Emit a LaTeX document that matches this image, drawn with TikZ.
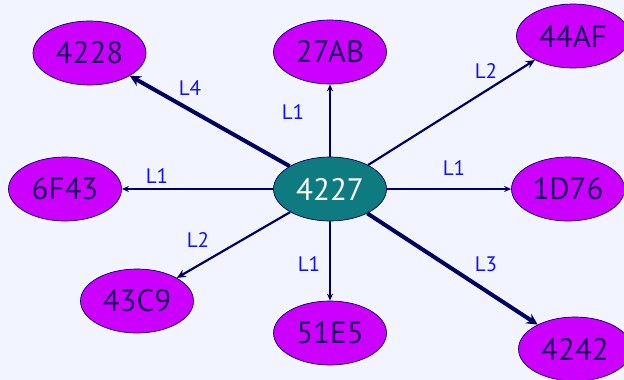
\documentclass[tikz,border=0pt]{standalone}
\usepackage{fontspec}
\setmainfont{PT Sans}
\usetikzlibrary{shapes.geometric,arrows.meta}

\definecolor{paper}{HTML}{F2F4FF}
\definecolor{hostfill}{HTML}{CC00FF}
\definecolor{hubfill}{HTML}{0D7B80}
\definecolor{ink}{HTML}{000060}
\definecolor{nodetext}{HTML}{1A0A5A}
\definecolor{linklabel}{HTML}{1010FF}

\tikzset{
  host/.style={ellipse, draw=ink, line width=0.7pt, fill=hostfill,
    minimum width=113pt, minimum height=64pt, inner sep=0pt,
    text=nodetext, font=\fontsize{31}{31}\selectfont},
  hub/.style={host, fill=hubfill, text=white},
  linkA/.style={draw=ink, line width=1.2pt, -{Stealth[length=7pt,width=6pt]}},
  linkB/.style={draw=ink, line width=2.2pt, -{Stealth[length=9pt,width=8pt]}},
  linkC/.style={draw=ink, line width=4pt, -{Stealth[length=11pt,width=11pt]}},
  lbl/.style={text=linklabel, font=\fontsize{21}{21}\selectfont, inner sep=0pt}
}

\begin{document}
\begin{tikzpicture}[x=1pt,y=-1pt]
  \fill[paper] (0,0) rectangle (624,380);
  \useasboundingbox (0,0) rectangle (624,380);

  % hosts around the central router
  \node[hub]  (c)  at (330,189) {4227};
  \node[host] (n1) at (89.5,53) {4228};
  \node[host] (n2) at (330,52)  {27AB};
  \node[host] (n3) at (573,36)  {44AF};
  \node[host] (n4) at (65,189)  {6F43};
  \node[host] (n5) at (568,189) {1D76};
  \node[host] (n6) at (137,301) {43C9};
  \node[host] (n7) at (330,333) {51E5};
  \node[host] (n8) at (575,349) {4242};

  % links, weighted by level
  \draw[linkC] (c) -- (n1);
  \draw[linkA] (c) -- (n2);
  \draw[linkB] (c) -- (n3);
  \draw[linkA] (c) -- (n4);
  \draw[linkA] (c) -- (n5);
  \draw[linkB] (c) -- (n6);
  \draw[linkA] (c) -- (n7);
  \draw[linkC] (c) -- (n8);

  % link levels
  \node[lbl] (l1) at (190,88)  {L4};
  \node[lbl] (l2) at (293,112) {L1};
  \node[lbl] (l3) at (486,71)  {L2};
  \node[lbl] (l4) at (157,176) {L1};
  \node[lbl] (l5) at (454,168) {L1};
  \node[lbl] (l6) at (198,240) {L2};
  \node[lbl] (l7) at (309,264) {L1};
  \node[lbl] (l8) at (486,264) {L3};
\end{tikzpicture}
\end{document}
